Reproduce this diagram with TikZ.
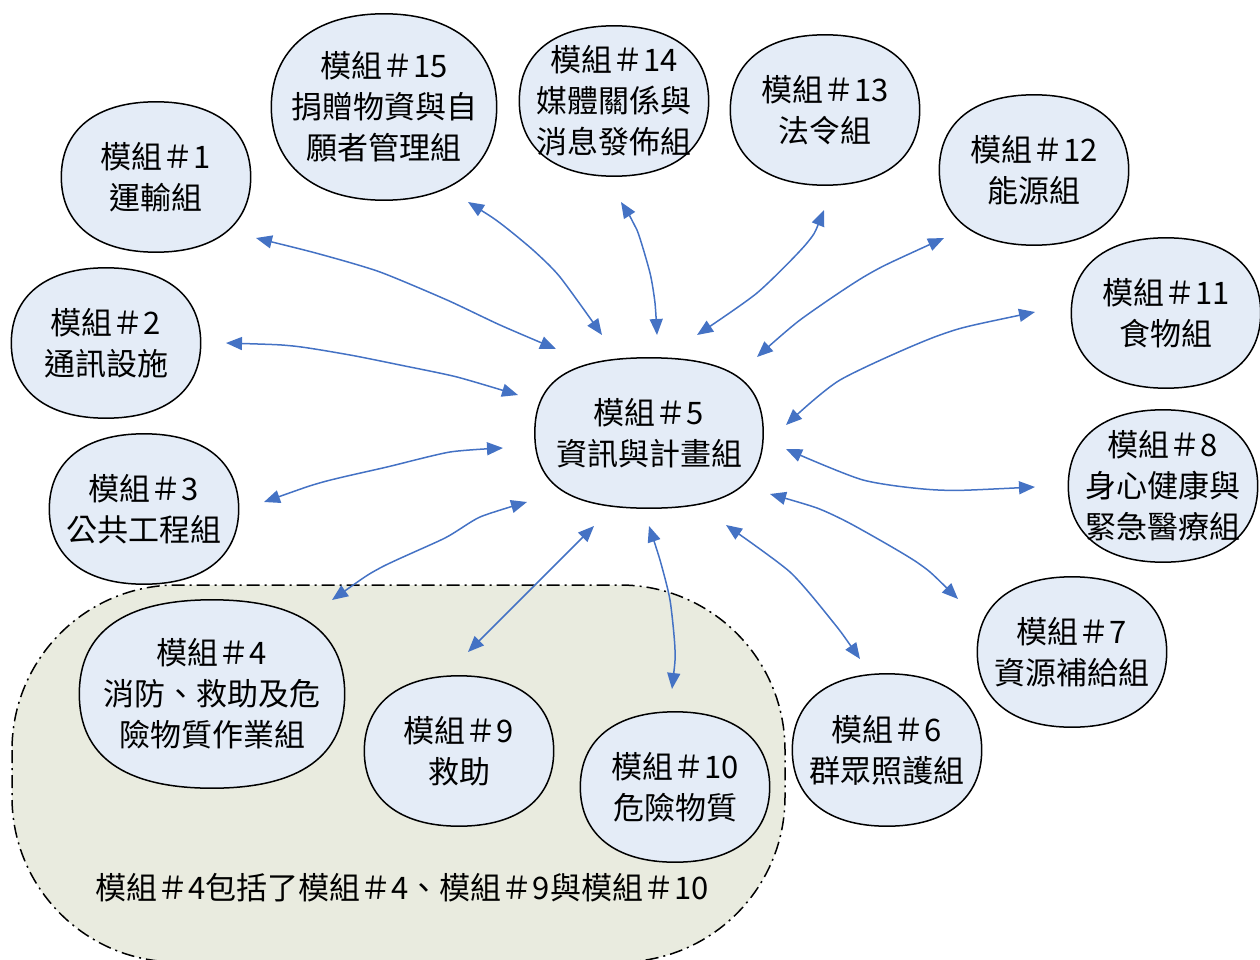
\documentclass[tikz,border=0pt]{standalone}
\usepackage{fontspec}
\newfontfamily\cjk{Noto Sans CJK TC}
\usetikzlibrary{arrows.meta,calc,backgrounds}
\definecolor{nodefill}{RGB}{228,236,247}
\definecolor{grpfill}{RGB}{233,235,223}
\definecolor{arrblue}{RGB}{68,114,196}
\newcommand\ovalpath[2]{%
  (#1.north) .. controls ($(#1.north)!#2!(#1.north east)$) and ($(#1.east)!#2!(#1.north east)$) .. (#1.east)
  .. controls ($(#1.east)!#2!(#1.south east)$) and ($(#1.south)!#2!(#1.south east)$) .. (#1.south)
  .. controls ($(#1.south)!#2!(#1.south west)$) and ($(#1.west)!#2!(#1.south west)$) .. (#1.west)
  .. controls ($(#1.west)!#2!(#1.north west)$) and ($(#1.north)!#2!(#1.north west)$) .. (#1.north) -- cycle}
\begin{document}
\begin{tikzpicture}[x=1pt,y=-1pt,
  mod/.style={minimum width=189pt, minimum height=150pt, align=center,
    font=\cjk\fontsize{31}{41}\selectfont, inner sep=0pt},
  modline/.style={draw=black, line width=1.5pt, fill=nodefill},
  link/.style={draw=arrblue, line width=1.5pt,
    {Triangle[length=16pt,width=13pt]}-{Triangle[length=16pt,width=13pt]}},
  grp/.style={draw=black, line width=1.5pt, fill=grpfill, rounded corners=165pt,
    dash pattern=on 13pt off 5pt on 2pt off 5pt},
  captext/.style={font=\cjk\fontsize{31}{41}\selectfont, inner sep=0pt}
]
\useasboundingbox (0,0) rectangle (1260,960);
\node[captext] (caption) at (402,888) {模組＃4包括了模組＃4、模組＃9與模組＃10};

% nodes
\node[mod] (n1) at (156,177) {模組＃1\\運輸組};
\node[mod] (n2) at (106,343) {模組＃2\\通訊設施};
\node[mod] (n3) at (144,509) {模組＃3\\公共工程組};
\node[mod, minimum width=225pt, minimum height=186pt] (n15) at (384,107) {模組＃15\\捐贈物資與自\\願者管理組};
\node[mod] (n14) at (614,101) {模組＃14\\媒體關係與\\消息發佈組};
\node[mod] (n13) at (825,110) {模組＃13\\法令組};
\node[mod] (n12) at (1034,170) {模組＃12\\能源組};
\node[mod] (n11) at (1166,313) {模組＃11\\食物組};
\node[mod, minimum height=152pt] (n8) at (1163,486) {模組＃8\\身心健康與\\緊急醫療組};
\node[mod] (n7) at (1072,652) {模組＃7\\資源補給組};
\node[mod, minimum height=152pt] (n6) at (887,750) {模組＃6\\群眾照護組};
\node[mod] (n10) at (675,787) {模組＃10\\危險物質};
\node[mod] (n9) at (459,751) {模組＃9\\救助};
\node[mod, minimum width=265pt, minimum height=188pt] (n4) at (212,694) {模組＃4\\消防、救助及危\\險物質作業組};
\node[mod, minimum width=228pt] (n5) at (649,433) {模組＃5\\資訊與計畫組};

% outlines and group area, under the texts
\begin{pgfonlayer}{background}
  \begin{scope}
    \clip (0,0) rectangle (1260,960);
    \path[grp] (12,585) rectangle (785,962);
  \end{scope}
  \foreach \nn/\kk in {n1/0.63, n2/0.63, n3/0.63, n15/0.62, n14/0.63, n13/0.63, n12/0.63,
      n11/0.63, n8/0.63, n7/0.63, n6/0.63, n10/0.63, n9/0.63, n4/0.66, n5/0.7}
    \path[modline] \ovalpath{\nn}{\kk};
\end{pgfonlayer}

% connector ends
\coordinate (a1s) at (256,238);  \coordinate (a1e) at (556,349);
\coordinate (a15s) at (468,202); \coordinate (a15e) at (602,335);
\coordinate (a2s) at (226,343);  \coordinate (a2e) at (518,395);
\coordinate (a3s) at (264,502);  \coordinate (a3e) at (503,448);
\coordinate (a4s) at (332,600);  \coordinate (a4e) at (527,502);
\coordinate (a9s) at (468,652);  \coordinate (a9e) at (594,526);
\coordinate (a10s) at (672,689); \coordinate (a10e) at (649,526);
\coordinate (a6s) at (860,659);  \coordinate (a6e) at (726,525);
\coordinate (a7s) at (958,599);  \coordinate (a7e) at (770,494);
\coordinate (a8s) at (1035,487); \coordinate (a8e) at (786,449);
\coordinate (a11s) at (1035,312); \coordinate (a11e) at (786,425);
\coordinate (a12s) at (944,238); \coordinate (a12e) at (757,357);
\coordinate (a13s) at (824,210); \coordinate (a13e) at (697,335);
\coordinate (a14s) at (621,202); \coordinate (a14e) at (657,335);

\draw[link] plot[smooth,tension=0.4] coordinates {(a1s) (323,255) (380,272) (447,300) (500,325) (a1e)};
\draw[link] plot[smooth,tension=0.4] coordinates {(a15s) (500,223) (533,250) (560,277) (a15e)};
\draw[link] plot[smooth,tension=0.4] coordinates {(a2s) (293,346) (350,355) (400,365) (457,377) (a2e)};
\draw[link] plot[smooth,tension=0.4] coordinates {(a3s) (323,482) (387,467) (450,452) (a3e)};
\draw[link] plot[smooth,tension=0.4] coordinates {(a4s) (380,568) (445,538) (480,517) (a4e)};
\draw[link] plot[smooth,tension=0.4] coordinates {(a9s) (533,587) (563,557) (a9e)};
\draw[link] plot[smooth,tension=0.4] coordinates {(a10s) (675,650) (670,600) (660,560) (a10e)};
\draw[link] plot[smooth,tension=0.4] coordinates {(a6s) (833,622) (790,572) (a6e)};
\draw[link] plot[smooth,tension=0.4] coordinates {(a7s) (918,563) (853,525) (817,508) (a7e)};
\draw[link] plot[smooth,tension=0.4] coordinates {(a8s) (938,490) (863,480) (a8e)};
\draw[link] plot[smooth,tension=0.4] coordinates {(a11s) (940,335) (840,380) (a11e)};
\draw[link] plot[smooth,tension=0.4] coordinates {(a12s) (867,275) (800,320) (a12e)};
\draw[link] plot[smooth,tension=0.4] coordinates {(a13s) (807,243) (757,293) (a13e)};
\draw[link] plot[smooth,tension=0.4] coordinates {(a14s) (637,230) (650,273) (655,303) (a14e)};
\end{tikzpicture}
\end{document}
